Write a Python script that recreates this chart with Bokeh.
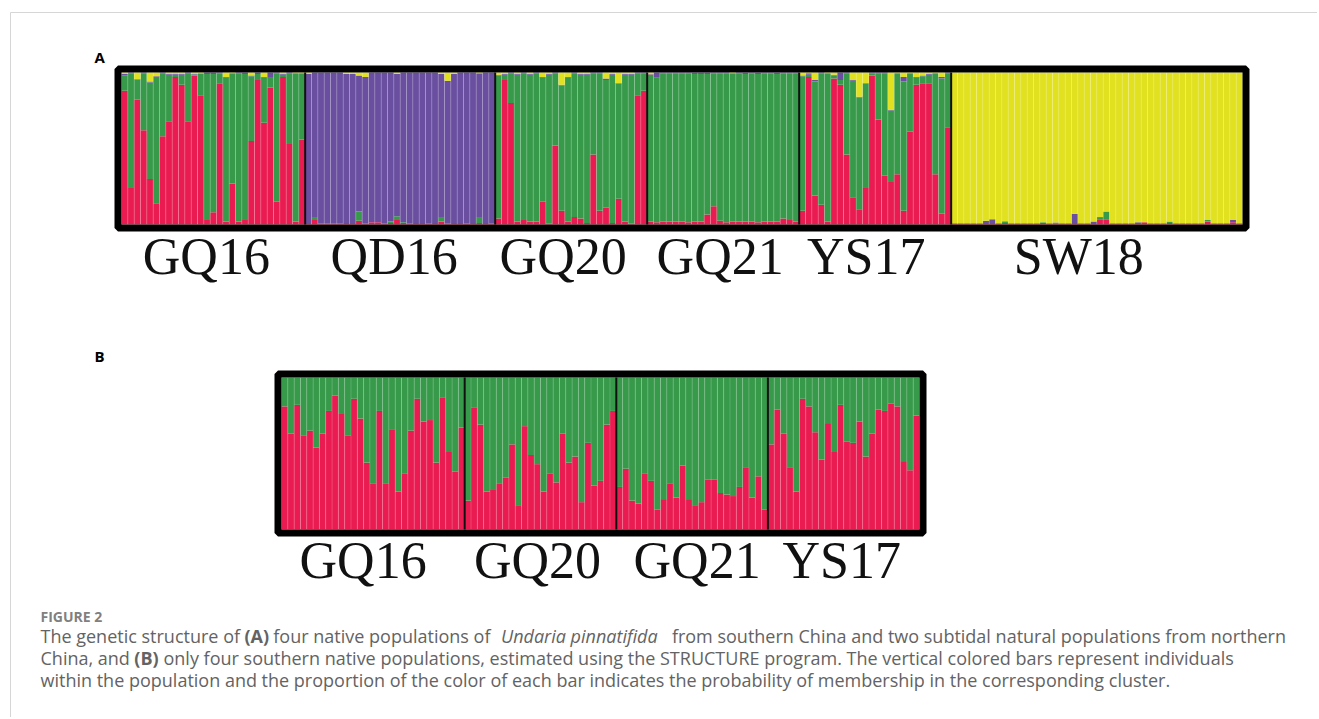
import numpy as np
from bokeh.plotting import figure
from bokeh.models import Range1d
from bokeh.embed import file_html
from bokeh.resources import INLINE
from bokeh.core.properties import value

# ---------------- data ----------------
pops_A = ["GQ16", "QD16", "GQ20", "GQ21", "YS17", "SW18"]
pops_B = ["GQ16", "GQ20", "GQ21", "YS17"]

# Panel A (K=4): cluster proportions per individual
A_GQ16_red = [0.88, 0.24, 0.82, 0.62, 0.30, 0.14, 0.58, 0.68, 0.97, 0.92, 0.68, 0.98, 0.85, 0.03, 0.08,
              0.93, 0.02, 0.27, 0.02, 0.03, 0.55, 0.95, 0.67, 0.90, 0.15, 0.97, 0.53, 0.02, 0.56]
A_GQ16_yellow = [0.01, 0.0, 0.045, 0.0, 0.06, 0.025, 0.0, 0.01, 0.01, 0.01, 0.0, 0.01, 0.005, 0.0, 0.0,
                 0.0, 0.03, 0.005, 0.0, 0.0, 0.02, 0.0, 0.03, 0.0, 0.0, 0.01, 0.0, 0.005, 0.005]
A_GQ16_purple = [0.008, 0.005, 0.005, 0.005, 0.005, 0.005, 0.005, 0.005, 0.005, 0.005, 0.005, 0.003, 0.003, 0.01, 0.01,
                 0.005, 0.005, 0.005, 0.005, 0.01, 0.005, 0.01, 0.005, 0.03, 0.005, 0.005, 0.005, 0.005, 0.005]

A_QD16_red = [0.01, 0.03, 0.005, 0.005, 0.005, 0.005, 0.01, 0.01, 0.025, 0.005, 0.015, 0.015, 0.005, 0.01, 0.03,
              0.01, 0.005, 0.01, 0.01, 0.005, 0.01, 0.02, 0.005, 0.01, 0.01, 0.005, 0.01, 0.01, 0.01, 0.005]
A_QD16_green = [0.0, 0.02, 0.0, 0.0, 0.0, 0.0, 0.0, 0.0, 0.06, 0.0, 0.0, 0.0, 0.0, 0.01, 0.025,
                0.005, 0.0, 0.0, 0.0, 0.0, 0.0, 0.03, 0.0, 0.0, 0.0, 0.0, 0.0, 0.04, 0.0, 0.0]
A_QD16_yellow = [0.01, 0.0, 0.0, 0.0, 0.0, 0.0, 0.01, 0.01, 0.02, 0.03, 0.0, 0.0, 0.0, 0.0, 0.01,
                 0.0, 0.0, 0.0, 0.0, 0.0, 0.0, 0.01, 0.055, 0.01, 0.0, 0.0, 0.0, 0.005, 0.0, 0.0]

A_GQ20_red = [0.04, 0.95, 0.80, 0.02, 0.03, 0.02, 0.02, 0.15, 0.005, 0.52, 0.09, 0.02,
              0.05, 0.04, 0.01, 0.46, 0.09, 0.11, 0.01, 0.17, 0.02, 0.005, 0.85, 0.88]
A_GQ20_yellow = [0.015, 0.01, 0.0, 0.01, 0.0, 0.01, 0.0, 0.03, 0.01, 0.0, 0.08, 0.03,
                 0.0, 0.01, 0.01, 0.0, 0.0, 0.04, 0.01, 0.07, 0.01, 0.01, 0.0, 0.0]
A_GQ20_purple = [0.005] * 17 + [0.01] + [0.005] * 6

A_GQ21_red = [0.02, 0.015, 0.02, 0.02, 0.02, 0.02, 0.015, 0.02, 0.02, 0.065, 0.12, 0.025,
              0.015, 0.02, 0.02, 0.02, 0.02, 0.015, 0.02, 0.02, 0.02, 0.04, 0.03, 0.02]
A_GQ21_purple = [0.005, 0.035, 0.005, 0.005, 0.005, 0.005, 0.005, 0.01, 0.01, 0.01, 0.005, 0.005,
                 0.005, 0.005, 0.005, 0.01, 0.005, 0.01, 0.005, 0.005, 0.01, 0.005, 0.005, 0.005]
A_GQ21_yellow = [0.012, 0.0, 0.0, 0.0, 0.0, 0.0, 0.0, 0.0, 0.0, 0.0, 0.0, 0.0,
                 0.0, 0.005, 0.0, 0.0, 0.0, 0.0, 0.0, 0.0, 0.0, 0.0, 0.0, 0.0]

A_YS17_red = [0.09, 0.97, 0.19, 0.13, 0.02, 0.96, 0.92, 0.46, 0.18, 0.10, 0.24, 0.98,
              0.69, 0.32, 0.28, 0.33, 0.09, 0.61, 0.92, 0.93, 0.93, 0.33, 0.07, 0.64]
A_YS17_yellow = [0.02, 0.005, 0.05, 0.0, 0.005, 0.015, 0.0, 0.0, 0.05, 0.16, 0.07, 0.0,
                 0.0, 0.0, 0.245, 0.005, 0.03, 0.005, 0.03, 0.02, 0.01, 0.005, 0.03, 0.0]
A_YS17_purple = [0.005, 0.01, 0.01, 0.005, 0.005, 0.005, 0.05, 0.005, 0.005, 0.005, 0.005, 0.005,
                 0.005, 0.005, 0.005, 0.005, 0.03, 0.005, 0.005, 0.005, 0.005, 0.005, 0.01, 0.005]

A_SW18_red = [0.008, 0.008, 0.008, 0.008, 0.008, 0.01, 0.01, 0.008, 0.01, 0.008, 0.008, 0.008,
              0.008, 0.008, 0.01, 0.008, 0.008, 0.008, 0.008, 0.01, 0.008, 0.008, 0.01, 0.035,
              0.035, 0.008, 0.008, 0.008, 0.008, 0.01, 0.015, 0.008, 0.008, 0.008, 0.01, 0.008,
              0.008, 0.008, 0.008, 0.008, 0.02, 0.008, 0.008, 0.008, 0.015, 0.008]
A_SW18_green = [0.0] * 8 + [0.012] + [0.0] * 5 + [0.005] + [0.0] * 8 + [0.01, 0.05] + [0.0] * 9 + \
               [0.01] + [0.0] * 5 + [0.01] + [0.0] * 5
A_SW18_purple = [0.0] * 5 + [0.015, 0.025] + [0.0] * 9 + [0.005] + [0.0] * 2 + [0.06] + [0.0] * 2 + \
                [0.01, 0.005] + [0.0] * 5 + [0.005] + [0.0] * 14 + [0.015, 0.0]

# Panel B (K=2): proportion of the red cluster (green = remainder)
B_GQ16_red = [0.81, 0.63, 0.82, 0.62, 0.65, 0.54, 0.63, 0.78, 0.88, 0.76, 0.62, 0.86, 0.73, 0.44, 0.30,
              0.78, 0.30, 0.66, 0.25, 0.37, 0.65, 0.86, 0.71, 0.72, 0.44, 0.87, 0.51, 0.38, 0.67]
B_GQ20_red = [0.19, 0.80, 0.69, 0.25, 0.26, 0.30, 0.34, 0.56, 0.16, 0.68, 0.49, 0.43,
              0.25, 0.37, 0.31, 0.63, 0.44, 0.48, 0.18, 0.57, 0.29, 0.32, 0.69, 0.78]
B_GQ21_red = [0.28, 0.40, 0.19, 0.17, 0.37, 0.32, 0.13, 0.20, 0.30, 0.21, 0.42, 0.20,
              0.16, 0.18, 0.33, 0.33, 0.24, 0.23, 0.22, 0.28, 0.41, 0.21, 0.35, 0.13]
B_YS17_red = [0.56, 0.79, 0.63, 0.41, 0.25, 0.86, 0.81, 0.64, 0.46, 0.70, 0.51, 0.82,
              0.58, 0.57, 0.71, 0.48, 0.63, 0.79, 0.78, 0.83, 0.81, 0.45, 0.39, 0.75]

RED, GREEN, PURPLE, YELLOW = "#E91B50", "#37994A", "#6A4FA0", "#E1E11F"

# ---------------- assemble ----------------
def rem(*parts):
    return list(1.0 - np.sum([np.asarray(p) for p in parts], axis=0))

A_red = A_GQ16_red + A_QD16_red + A_GQ20_red + A_GQ21_red + A_YS17_red + A_SW18_red
A_green = (rem(A_GQ16_red, A_GQ16_yellow, A_GQ16_purple) + A_QD16_green +
           rem(A_GQ20_red, A_GQ20_yellow, A_GQ20_purple) + rem(A_GQ21_red, A_GQ21_purple, A_GQ21_yellow) +
           rem(A_YS17_red, A_YS17_yellow, A_YS17_purple) + A_SW18_green)
A_purple = (A_GQ16_purple + rem(A_QD16_red, A_QD16_green, A_QD16_yellow) + A_GQ20_purple +
            A_GQ21_purple + A_YS17_purple + A_SW18_purple)
A_yellow = (A_GQ16_yellow + A_QD16_yellow + A_GQ20_yellow + A_GQ21_yellow + A_YS17_yellow +
            rem(A_SW18_red, A_SW18_green, A_SW18_purple))
A_sizes = [len(A_GQ16_red), len(A_QD16_red), len(A_GQ20_red), len(A_GQ21_red), len(A_YS17_red), len(A_SW18_red)]

B_red = B_GQ16_red + B_GQ20_red + B_GQ21_red + B_YS17_red
B_green = rem(B_red)
B_sizes = [len(B_GQ16_red), len(B_GQ20_red), len(B_GQ21_red), len(B_YS17_red)]

# ---------------- figure (page-pixel base range) ----------------
W, H = 1317, 717
p = figure(width=W, height=H, output_backend="svg", toolbar_location=None,
           x_range=Range1d(0, W), y_range=Range1d(H, 0),
           min_border=0, min_border_left=0, min_border_right=0, min_border_top=0, min_border_bottom=0)
p.axis.visible = False
p.grid.visible = False
p.outline_line_color = None
p.background_fill_color = "white"
p.border_fill_color = "white"


def add_panel(name, n, px0, px1, py_top, py_bot):
    sx = (px1 - px0) / n
    sy = (py_bot - py_top)
    p.extra_x_ranges[name] = Range1d(-px0 / sx, n + (W - px1) / sx)
    p.extra_y_ranges[name] = Range1d(-(H - py_bot) / sy, 1 + py_top / sy)


NA, NB = sum(A_sizes), sum(B_sizes)
add_panel("A", NA, 121, 1242, 72, 224)
add_panel("B", NB, 281, 919, 377, 529)


def stack(name, comps, colors):
    n = len(comps[0])
    x = np.arange(n)
    bottom = np.zeros(n)
    for c, col in zip(comps, colors):
        c = np.asarray(c, dtype=float)
        p.quad(left=x, right=x + 1, bottom=bottom, top=bottom + c, fill_color=col, line_color=None,
               x_range_name=name, y_range_name=name)
        bottom = bottom + c
    xs = np.arange(1, n)
    p.segment(x0=xs, y0=0, x1=xs, y1=1, line_color="white", line_alpha=0.18, line_width=1,
              x_range_name=name, y_range_name=name)


stack("A", [A_red, A_green, A_purple, A_yellow], [RED, GREEN, PURPLE, YELLOW])
stack("B", [B_red, B_green], [RED, GREEN])

# population separators
bA = np.cumsum(A_sizes)[:-1]
p.segment(x0=bA, y0=0, x1=bA, y1=1, line_color="#111111", line_width=2, x_range_name="A", y_range_name="A")
bB = np.cumsum(B_sizes)[:-1]
p.segment(x0=bB, y0=0, x1=bB, y1=1, line_color="#111111", line_width=2, x_range_name="B", y_range_name="B")

# thick frames
p.quad(left=[117.5], right=[1245.5], top=[68.5], bottom=[227.5], fill_color=None, line_color="black", line_width=7)
p.quad(left=[277.5], right=[922.5], top=[373.5], bottom=[532.5], fill_color=None, line_color="black", line_width=7)

BL = 0.40  # baseline correction (fraction of font size) for svg text


def by(baseline, fs):
    return baseline - BL * fs


# population labels
FS_L = 52
cA = np.concatenate([[0], np.cumsum(A_sizes)])
centA = (cA[:-1] + cA[1:]) / 2
offA = [-7, -6, -8, -3, -9, -18]
p.text(x=centA, y=[by(277, FS_L)] * len(pops_A), text=pops_A, x_offset=offA, x_range_name="A",
       text_font=value("Liberation Serif"), text_font_size=f"{FS_L}px", text_align="center",
       text_baseline="alphabetic", text_color="#111111")
cB = np.concatenate([[0], np.cumsum(B_sizes)])
centB = (cB[:-1] + cB[1:]) / 2
offB = [-10, -3, 5, -2]
p.text(x=centB, y=[by(581, FS_L)] * len(pops_B), text=pops_B, x_offset=offB, x_range_name="B",
       text_font=value("Liberation Serif"), text_font_size=f"{FS_L}px", text_align="center",
       text_baseline="alphabetic", text_color="#111111")

# panel letters
p.text(x=[94, 94], y=[by(62, 15), by(361, 15)], text=["A", "B"], text_font=value("Open Sans"),
       text_font_size="15px", text_font_style="bold", text_color="black", text_baseline="alphabetic")

# page frame lines
p.segment(x0=[10, 10], y0=[12, 12], x1=[W, 10], y1=[12, H], line_color="#d6d6d6", line_width=1)

# caption
CAP = "#636363"
FS_C = 18
p.text(x=[40], y=[by(622, 14)], text=["FIGURE 2"], text_font=value("Open Sans"), text_font_size="14px",
       text_font_style="bold", text_color="#808080", text_baseline="alphabetic")

_w = {' ': .260, '(': .295, ')': .295, ',': .240, '.': .266, 'A': .633, 'B': .648, 'C': .631, 'E': .547,
      'H': .736, 'I': .303, 'P': .607, 'R': .613, 'S': .547, 'T': .541, 'U': .725,
      'a': .556, 'b': .613, 'c': .476, 'd': .613, 'e': .561, 'f': .339, 'g': .548, 'h': .614, 'i': .253,
      'j': .253, 'k': .525, 'l': .253, 'm': .930, 'n': .614, 'o': .604, 'p': .613, 'q': .613, 'r': .408,
      's': .477, 't': .353, 'u': .614, 'v': .501, 'w': .778, 'x': .524, 'y': .502, 'z': .477}


def tw(s, style):
    k = {"bold": 1.10, "italic": 1.06}.get(style, 1.0)
    return sum(_w.get(ch, .56) for ch in s) * FS_C * k


lines = [
    (643, [("The genetic structure of", "normal"), ("(A)", "bold"), ("four native populations of", "normal"),
           ("Undaria pinnatifida", "italic"),
           ("from southern China and two subtidal natural populations from northern", "normal")]),
    (665, [("China, and", "normal"), ("(B)", "bold"),
           ("only four southern native populations, estimated using the STRUCTURE program. The vertical colored bars represent individuals", "normal")]),
    (687, [("within the population and the proportion of the color of each bar indicates the probability of membership in the corresponding cluster.", "normal")]),
]
for base, segs in lines:
    x = 40.0
    for t, st in segs:
        slot = tw(t, st)
        if st == "italic":
            # centre the italic run within its slot
            p.text(x=[x + slot / 2 - 2], y=[by(base, FS_C)], text=[t], text_font=value("Open Sans"),
                   text_font_size=f"{FS_C}px", text_font_style=st, text_color=CAP,
                   text_baseline="alphabetic", text_align="center")
        else:
            p.text(x=[x], y=[by(base, FS_C)], text=[t], text_font=value("Open Sans"), text_font_size=f"{FS_C}px",
                   text_font_style=st, text_color=CAP, text_baseline="alphabetic")
        x += slot + _w[' '] * FS_C

open("out.html", "w").write(file_html(p, INLINE))
